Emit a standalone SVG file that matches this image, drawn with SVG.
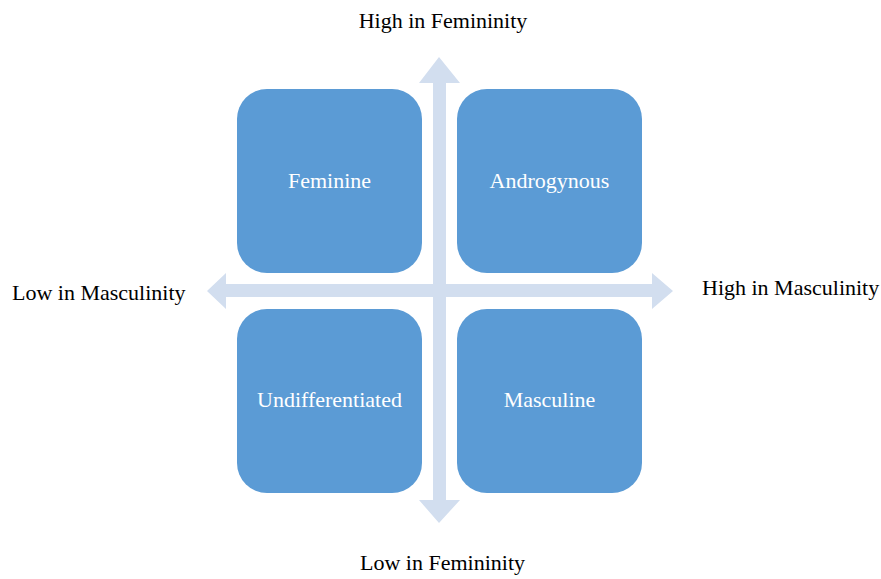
<svg xmlns="http://www.w3.org/2000/svg" width="881" height="579" viewBox="0 0 881 579">
<style>
.box{fill:#5B9BD5;}
.bt{font-family:"Liberation Serif",serif;font-size:22px;fill:#ffffff;text-anchor:middle;}
.lbl{font-family:"Liberation Serif",serif;font-size:22px;fill:#000000;}
.arr{fill:#D2DEEF;}
</style>
<rect width="881" height="579" fill="#ffffff"/>
<g id="connectors">
<polygon class="arr" points="439,57 460,83 446,83 446,284 652,284 652,273 673,291 652,309 652,297 446,297 446,500 460,500 439,523 419,500 433,500 433,297 226,297 226,309 207,291 226,273 226,284 433,284 433,83 419,83"/>
</g>
<g id="feminine">
<rect class="box" x="237" y="89" width="185" height="184" rx="30"/>
<text class="bt" x="329.5" y="188">Feminine</text>
</g>
<g id="androgynous">
<rect class="box" x="457" y="89" width="185" height="184" rx="30"/>
<text class="bt" x="549.5" y="188">Androgynous</text>
</g>
<g id="undifferentiated">
<rect class="box" x="237" y="309" width="185" height="184" rx="30"/>
<text class="bt" x="329.5" y="407">Undifferentiated</text>
</g>
<g id="masculine">
<rect class="box" x="457" y="309" width="185" height="184" rx="30"/>
<text class="bt" x="549.5" y="407">Masculine</text>
</g>
<g id="labels">
<text class="lbl" x="443" y="28" text-anchor="middle">High in Femininity</text>
<text class="lbl" x="442.5" y="570" text-anchor="middle">Low in Femininity</text>
<text class="lbl" x="12" y="300">Low in Masculinity</text>
<text class="lbl" x="702" y="295">High in Masculinity</text>
</g>
</svg>
